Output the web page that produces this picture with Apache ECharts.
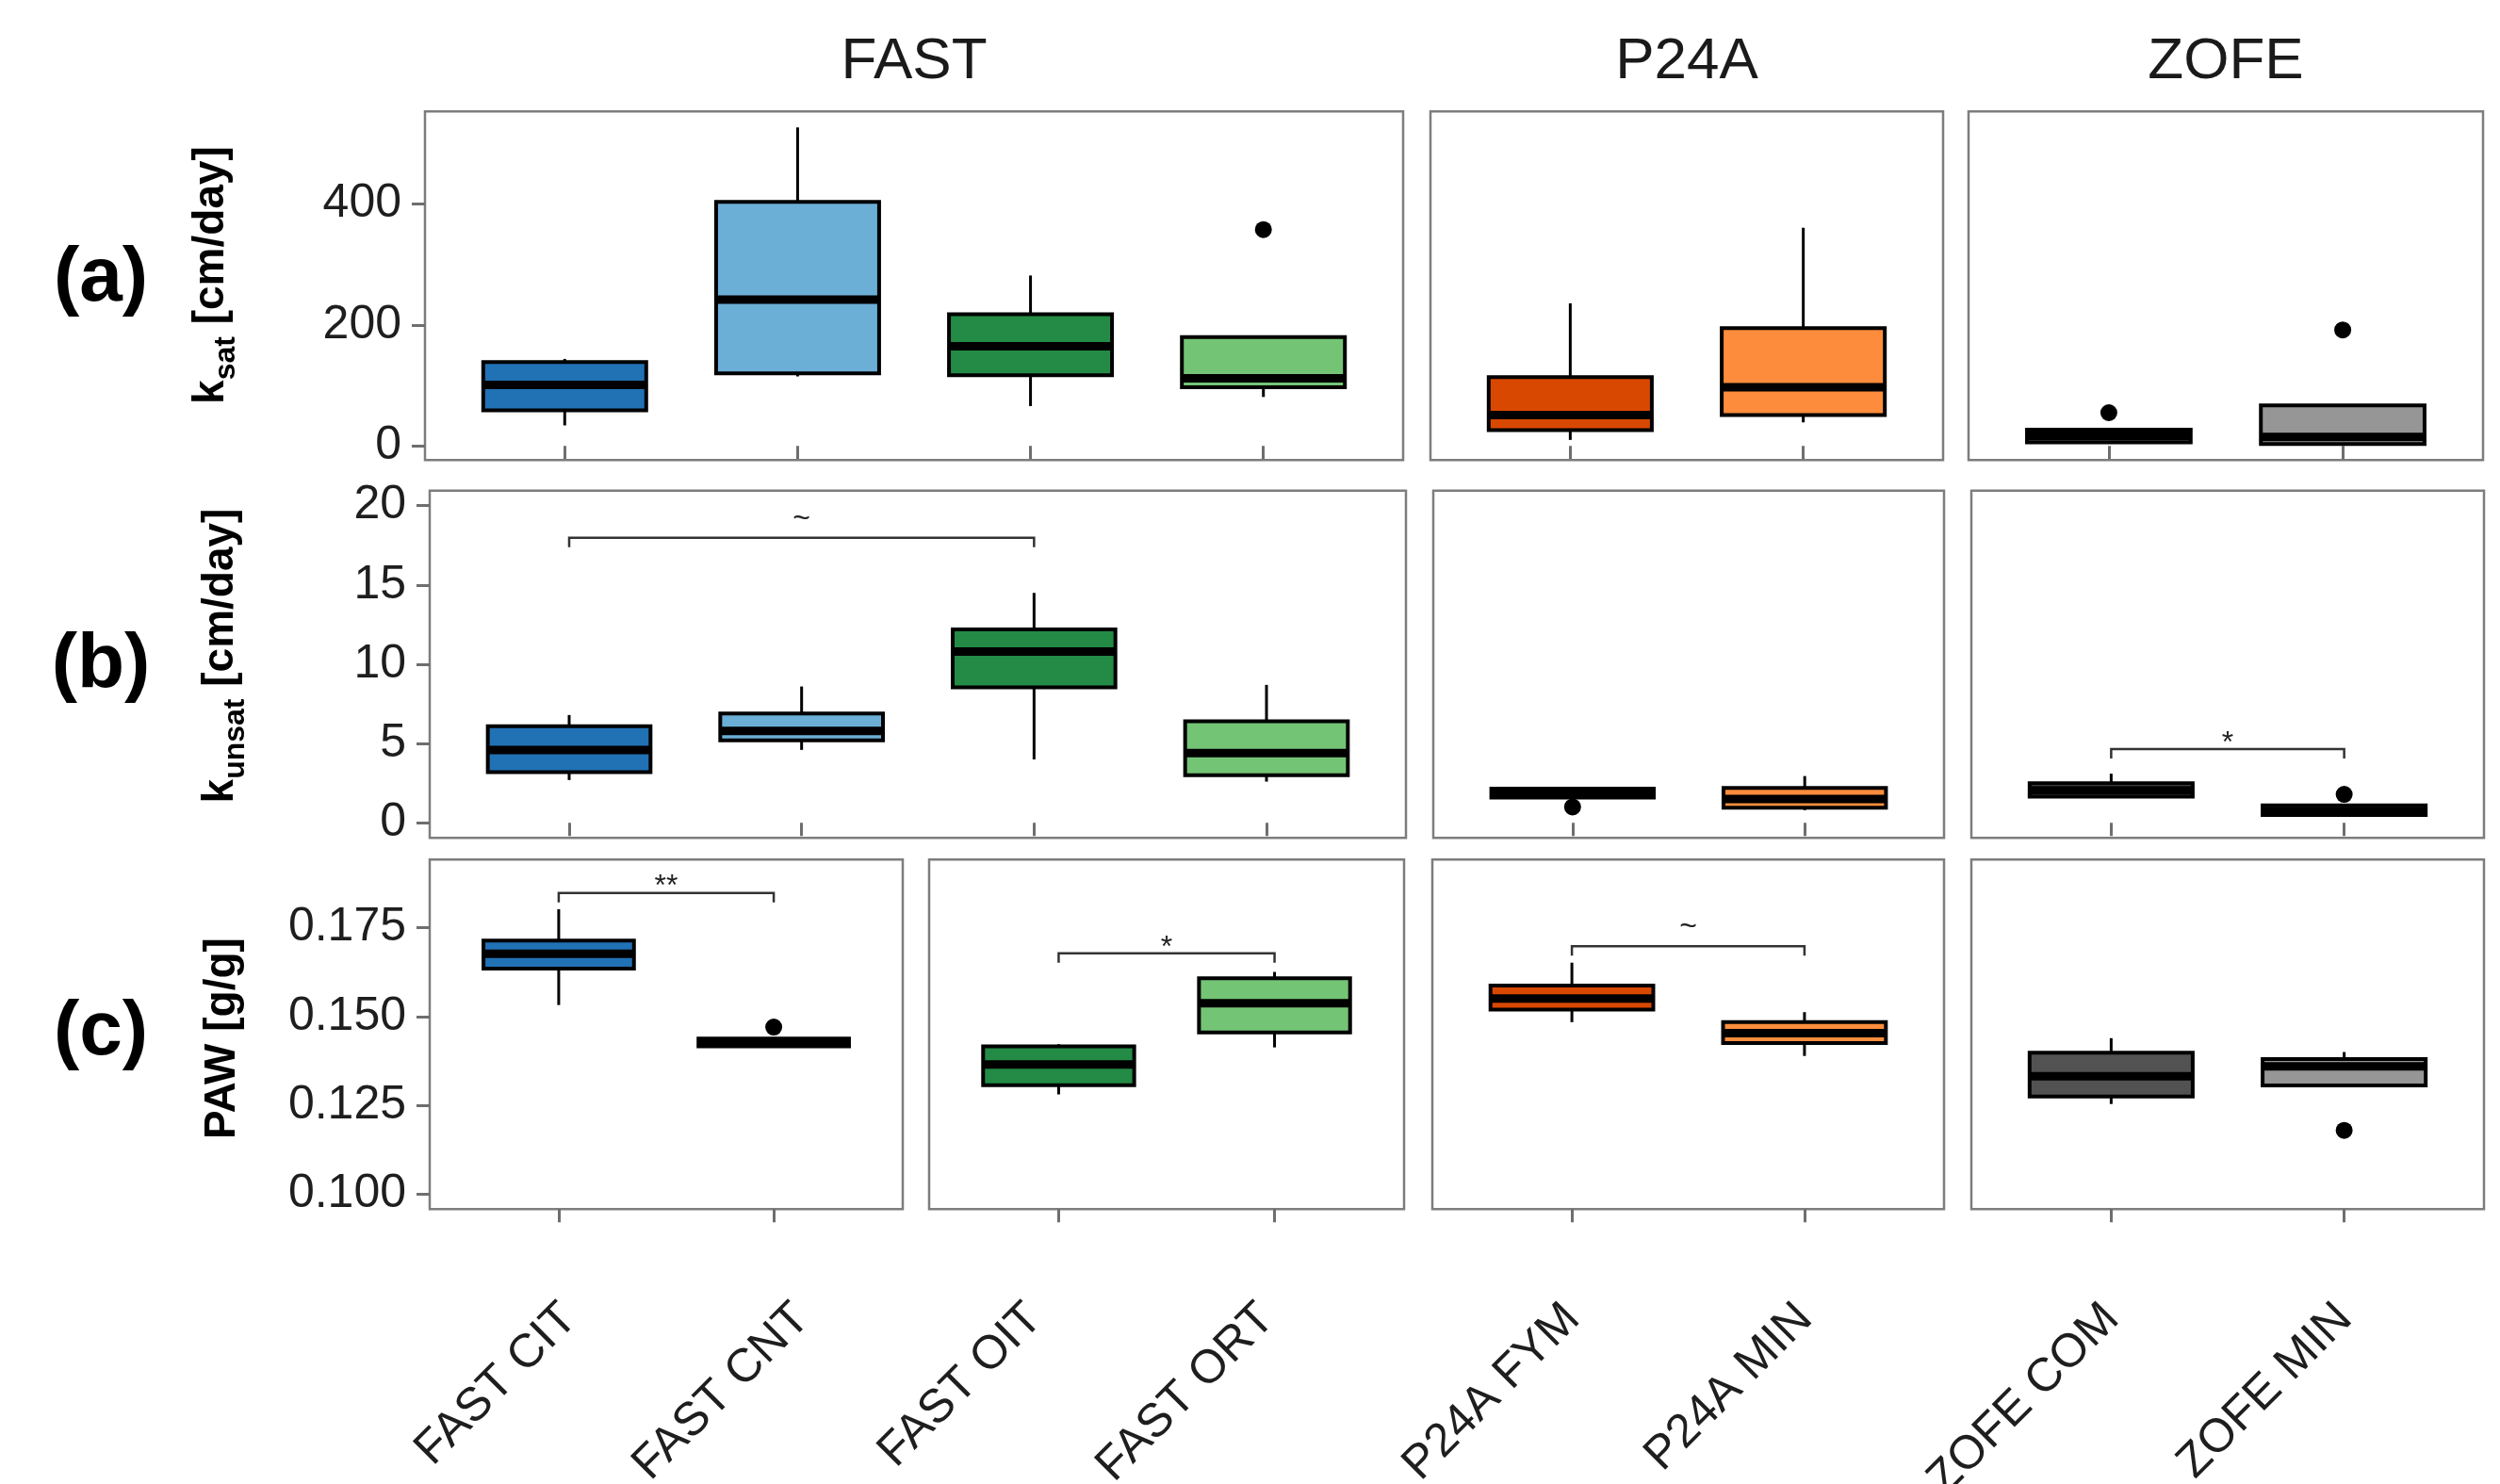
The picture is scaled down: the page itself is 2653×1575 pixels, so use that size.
<!DOCTYPE html>
<html><head><meta charset="utf-8">
<script src="https://cdn.jsdelivr.net/npm/echarts@6/dist/echarts.min.js"></script>
<style>html,body{margin:0;padding:0;background:#fff}#c{width:2653px;height:1575px}</style>
</head><body><div id="c"></div>
<script>
// ---------- data ----------
const categories = ['FAST CIT','FAST CNT','FAST OIT','FAST ORT','P24A FYM','P24A MIN','ZOFE COM','ZOFE MIN'];
const colors = ['#2171b5','#6baed6','#238b45','#74c476','#d94801','#fd8d3c','#525252','#969696'];
const siteTitles = ['FAST','P24A','ZOFE'];
// [min, q1, median, q3, max] per category
const ksatStats = [
  [34, 59, 101, 139, 144],
  [115, 120, 242, 404, 527],
  [66, 117, 165, 218, 282],
  [81, 97, 112, 180, 180],
  [10, 26, 51, 114, 236],
  [39, 51, 97, 195, 361],
  [4, 6, 17, 27, 28],
  [2, 3, 15, 67, 67]
];
const ksatOutliers = [[3, 358], [6, 55], [7, 192]];          // [category index, value]
const kunsatStats = [
  [2.7, 3.2, 4.6, 6.1, 6.8],
  [4.6, 5.2, 5.8, 6.9, 8.6],
  [4.0, 8.55, 10.8, 12.2, 14.5],
  [2.6, 3.0, 4.4, 6.4, 8.7],
  [1.55, 1.6, 1.9, 2.15, 2.25],
  [0.8, 0.95, 1.5, 2.2, 2.95],
  [1.6, 1.65, 2.05, 2.5, 3.1],
  [0.45, 0.5, 0.75, 1.1, 1.15]
];
const kunsatOutliers = [[4, 1.0], [7, 1.8]];
const pawStats = [
  [0.1532, 0.1634, 0.1676, 0.1713, 0.1801],
  [0.1412, 0.1416, 0.1427, 0.1438, 0.1442],
  [0.1281, 0.1307, 0.1365, 0.1416, 0.1422],
  [0.1413, 0.1455, 0.1537, 0.1607, 0.1625],
  [0.1484, 0.1519, 0.1550, 0.1587, 0.1651],
  [0.1389, 0.1425, 0.1453, 0.1484, 0.1512],
  [0.1254, 0.1275, 0.1332, 0.1398, 0.1439],
  [0.1306, 0.1306, 0.1360, 0.1380, 0.1400]
];
const pawOutliers = [[1, 0.147], [7, 0.118]];
const ksatTicks = [0, 200, 400];
const kunsatTicks = [0, 5, 10, 15, 20];
const pawTicks = [0.100, 0.125, 0.150, 0.175];
// [category from, category to, bracket height, label]
const ksatBrackets = [];
const kunsatBrackets = [[0, 2, 17.98, '~'], [6, 7, 4.65, '*']];
const pawBrackets = [[0, 1, 0.1847, '**'], [2, 3, 0.1677, '*'], [4, 5, 0.1697, '~']];

// ---------- layout ----------
const FONT = 'Liberation Sans, Arial, sans-serif';
const rows = [
  {stats: ksatStats, outliers: ksatOutliers, ticks: ksatTicks, brackets: ksatBrackets, fmt: v => String(v),
   top: 118.3, bottom: 488.3, min: -23.4, max: 553.4,
   panels: [{cats:[0,1,2,3], l:451, r:1489}, {cats:[4,5], l:1518, r:2062}, {cats:[6,7], l:2089, r:2635}]},
  {stats: kunsatStats, outliers: kunsatOutliers, ticks: kunsatTicks, brackets: kunsatBrackets, fmt: v => String(v),
   top: 520.7, bottom: 889.3, min: -0.95, max: 20.95,
   panels: [{cats:[0,1,2,3], l:456, r:1492}, {cats:[4,5], l:1521, r:2063}, {cats:[6,7], l:2092, r:2636}]},
  {stats: pawStats, outliers: pawOutliers, ticks: pawTicks, brackets: pawBrackets, fmt: v => v.toFixed(3),
   top: 912.3, bottom: 1283.3, min: 0.09587, max: 0.19405,
   panels: [{cats:[0,1], l:456, r:958, noLab: true}, {cats:[2,3], l:986, r:1490, noLab: true},
            {cats:[4,5], l:1520, r:2063}, {cats:[6,7], l:2092, r:2636}]}
];
// bottom category labels of FAST follow the 4-box column spacing
const labelPanels = [{cats:[0,1,2,3], l:456, r:1492}];

const xLabelStyle = {rotate: 45, margin: 74, align: 'right', verticalAlign: 'top', padding: [0, 24, 0, 0],
  fontSize: 50, fontFamily: FONT, color: '#1e1e1e'};

const grid = [], xAxis = [], yAxis = [], series = [];
let gi = 0;
rows.forEach((row, ri) => {
  const lastRow = ri === rows.length - 1;
  row.panels.forEach((p, pi) => {
    const n = p.cats.length;
    const pos = [];
    for (let k = 1; k <= n; k++) pos.push(k);
    grid.push({left: p.l, top: row.top, width: p.r - p.l, height: row.bottom - row.top,
      containLabel: false, outerBoundsMode: 'none',
      show: true, borderColor: '#7d7d7d', borderWidth: 2.5, backgroundColor: '#fff'});
    xAxis.push({type: 'value', gridIndex: gi, min: 0.4, max: n + 0.6,
      splitLine: {show: false}, axisLine: {show: false},
      axisTick: {show: true, customValues: pos, length: 14, lineStyle: {color: '#6e6e6e', width: 3}},
      axisLabel: Object.assign({show: lastRow && !p.noLab, customValues: pos,
        formatter: v => categories[p.cats[Math.round(v) - 1]] || ''}, xLabelStyle)});
    yAxis.push({type: 'value', gridIndex: gi, min: row.min, max: row.max,
      splitLine: {show: false}, axisLine: {show: false},
      axisTick: {show: pi === 0, customValues: row.ticks, length: 14, lineStyle: {color: '#6e6e6e', width: 3}},
      axisLabel: {show: pi === 0, customValues: row.ticks, margin: 25, fontSize: 50, fontFamily: FONT, color: '#1e1e1e',
        formatter: row.fmt}});
    // boxes
    series.push({type: 'custom', xAxisIndex: gi, yAxisIndex: gi, silent: true, clip: false,
      encode: {x: 0, y: [1, 2, 3, 4, 5]},
      data: p.cats.map((c, j) => [j + 1].concat(row.stats[c], [c])),
      renderItem: (params, api) => {
        const x = api.value(0);
        const ci = api.value(6);
        const hw = api.size([0.35, 0])[0];
        const pMin = api.coord([x, api.value(1)]), pQ1 = api.coord([x, api.value(2)]),
              pMd = api.coord([x, api.value(3)]), pQ3 = api.coord([x, api.value(4)]),
              pMax = api.coord([x, api.value(5)]);
        return {type: 'group', children: [
          {type: 'line', shape: {x1: pMax[0], y1: pMax[1], x2: pQ3[0], y2: pQ3[1]}, style: {stroke: '#000', lineWidth: 3}},
          {type: 'line', shape: {x1: pQ1[0], y1: pQ1[1], x2: pMin[0], y2: pMin[1]}, style: {stroke: '#000', lineWidth: 3}},
          {type: 'rect', shape: {x: pQ3[0] - hw, y: pQ3[1], width: 2 * hw, height: pQ1[1] - pQ3[1]},
            style: {fill: colors[ci], stroke: '#000', lineWidth: 4}},
          {type: 'line', shape: {x1: pMd[0] - hw, y1: pMd[1], x2: pMd[0] + hw, y2: pMd[1]}, style: {stroke: '#000', lineWidth: 9}}
        ]};
      }});
    // outliers
    const outs = row.outliers.filter(o => p.cats.indexOf(o[0]) >= 0).map(o => [p.cats.indexOf(o[0]) + 1, o[1]]);
    if (outs.length) series.push({type: 'scatter', xAxisIndex: gi, yAxisIndex: gi, silent: true,
      symbolSize: 18, itemStyle: {color: '#000', opacity: 1}, data: outs});
    // significance brackets
    const brs = row.brackets.filter(b => p.cats.indexOf(b[0]) >= 0);
    if (brs.length) series.push({type: 'custom', xAxisIndex: gi, yAxisIndex: gi, silent: true, clip: false,
      data: brs.map(b => [p.cats.indexOf(b[0]) + 1, p.cats.indexOf(b[1]) + 1, b[2]]),
      renderItem: (params, api) => {
        const lab = brs[params.dataIndex][3];
        const a = api.coord([api.value(0), api.value(2)]), b = api.coord([api.value(1), api.value(2)]);
        const off = lab.indexOf('*') >= 0 ? 6 : 20;
        return {type: 'group', children: [
          {type: 'polyline', shape: {points: [[a[0], a[1] + 10], [a[0], a[1]], [b[0], b[1]], [b[0], b[1] + 10]]},
            style: {stroke: '#333', lineWidth: 2.5, fill: null}},
          {type: 'text', x: (a[0] + b[0]) / 2, y: a[1] - off,
            style: {text: lab, fontSize: 32, fontFamily: FONT, fill: '#222', align: 'center', verticalAlign: 'middle'}}
        ]};
      }});
    gi++;
  });
});
// label-only axis for FAST categories at the bottom
const lastR = rows[rows.length - 1];
labelPanels.forEach(p => {
  const pos = p.cats.map((c, j) => j + 1);
  grid.push({left: p.l, top: lastR.top, width: p.r - p.l, height: lastR.bottom - lastR.top,
    containLabel: false, outerBoundsMode: 'none', show: false});
  xAxis.push({type: 'value', gridIndex: gi, min: 0.4, max: p.cats.length + 0.6,
    splitLine: {show: false}, axisLine: {show: false}, axisTick: {show: false},
    axisLabel: Object.assign({show: true, customValues: pos,
      formatter: v => categories[p.cats[Math.round(v) - 1]] || ''}, xLabelStyle)});
  yAxis.push({type: 'value', gridIndex: gi, min: 0, max: 1, show: false});
  gi++;
});

// ---------- texts ----------
const graphic = [];
const titleX = [(451 + 1489) / 2, (1518 + 2062) / 2, (2089 + 2635) / 2];
siteTitles.forEach((t, i) => graphic.push({type: 'text', x: titleX[i], y: 66,
  style: {text: t, fontSize: 62, fontFamily: FONT, fill: '#1a1a1a', align: 'center', verticalAlign: 'middle'}}));
[['(a)', 296], ['(b)', 706], ['(c)', 1096]].forEach(d => graphic.push({type: 'text', x: 107, y: d[1],
  style: {text: d[0], fontSize: 82, fontWeight: 'bold', fontFamily: FONT, fill: '#000', align: 'center', verticalAlign: 'middle'}}));
const richY = {
  k: {fontSize: 46, fontWeight: 'bold', fontFamily: FONT, fill: '#000', lineHeight: 64, verticalAlign: 'middle'},
  s: {fontSize: 32, fontWeight: 'bold', fontFamily: FONT, fill: '#000', lineHeight: 34, verticalAlign: 'bottom'}
};
[['{k|k}{s|sat}{k| [cm/day]}', 224, 292], ['{k|k}{s|unsat}{k| [cm/day]}', 234, 696], ['{k|PAW [g/g]}', 236, 1102]]
  .forEach(d => graphic.push({type: 'text', x: d[1], y: d[2], rotation: Math.PI / 2,
    style: {text: d[0], rich: richY, align: 'center', verticalAlign: 'middle'}}));

const chart = echarts.init(document.getElementById('c'), null, {renderer: 'canvas'});
chart.setOption({animation: false, backgroundColor: '#fff', grid, xAxis, yAxis, series, graphic});
</script>
</body></html>
